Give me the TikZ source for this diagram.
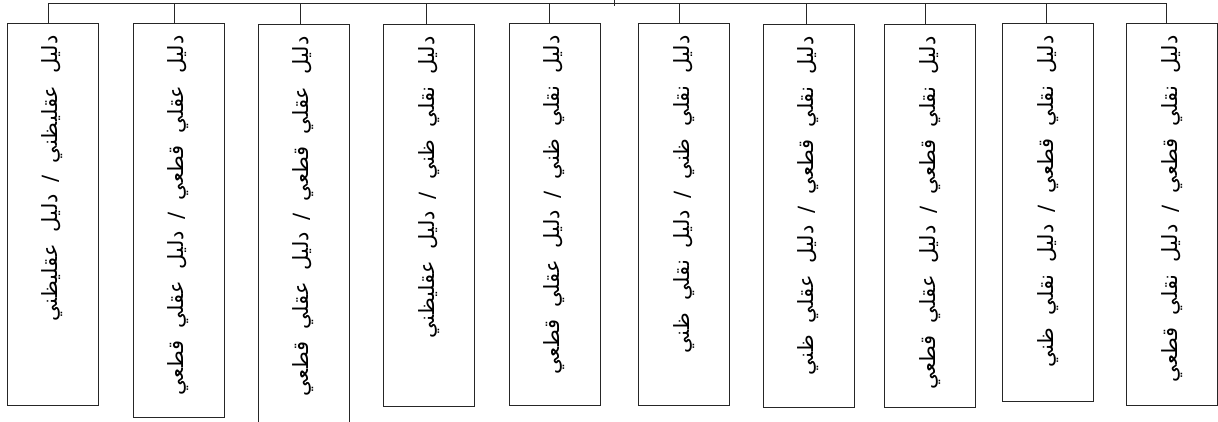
\documentclass[tikz,border=0pt]{standalone}
\usepackage{fontspec}
\newfontfamily\arabicfont[Script=Arabic]{DejaVu Sans}
\TeXXeTstate=1
\newcommand\ar[1]{\arabicfont\fontsize{21}{25}\selectfont\spaceskip=12pt\relax\beginR #1\endR}
\begin{document}
\begin{tikzpicture}[x=1pt,y=1pt,
  line/.style={draw=black!85, line width=1pt},
  vbox/.style={line, rotate=90, anchor=east, minimum height=91pt,
    inner xsep=12pt, inner ysep=0pt, align=right}]
\useasboundingbox (0,0) rectangle (1218,-421);
\node[vbox, text width=358pt] (b1) at (52.5,-23) {\ar{دليل عقليظني / دليل عقليظني}};
\node[vbox, text width=370pt] (b2) at (178.5,-23) {\ar{دليل عقلي قطعي / دليل عقلي قطعي}};
\node[vbox, text width=400pt] (b3) at (303.5,-24) {\ar{دليل عقلي قطعي / دليل عقلي قطعي}};
\node[vbox, text width=358pt] (b4) at (429,-24) {\ar{دليل نقلي ظني / دليل عقليظني}};
\node[vbox, text width=358pt] (b5) at (554.5,-23) {\ar{دليل نقلي ظني / دليل عقلي قطعي}};
\node[vbox, text width=358pt] (b6) at (684,-23) {\ar{دليل نقلي ظني / دليل نقلي ظني}};
\node[vbox, text width=359pt] (b7) at (808.5,-24) {\ar{دليل نقلي قطعي / دليل عقلي ظني}};
\node[vbox, text width=359pt] (b8) at (930,-24) {\ar{دليل نقلي قطعي / دليل عقلي قطعي}};
\node[vbox, text width=354pt] (b9) at (1048,-23) {\ar{دليل نقلي قطعي / دليل نقلي ظني}};
\node[vbox, text width=358pt] (b10) at (1172,-23) {\ar{دليل نقلي قطعي / دليل نقلي قطعي}};
\coordinate (bus) at (0,-3);
\coordinate (ptop) at (614,0);
\coordinate (pbot) at (614,-6);
\draw[line] (ptop) -- (pbot);
\foreach \b/\d in {b1/-4.5,b2/-4.5,b3/-3.5,b4/-3,b5/-5.5,b6/-5,b7/-2.5,b8/-5,b9/-2,b10/-6} {
  \draw[line] ([xshift=\d pt]\b.east) -- ([xshift=\d pt]\b.east |- bus);
}
\draw[line] ([xshift=-4.5pt]b1.east |- bus) -- ([xshift=-6pt]b10.east |- bus);
\end{tikzpicture}
\end{document}
